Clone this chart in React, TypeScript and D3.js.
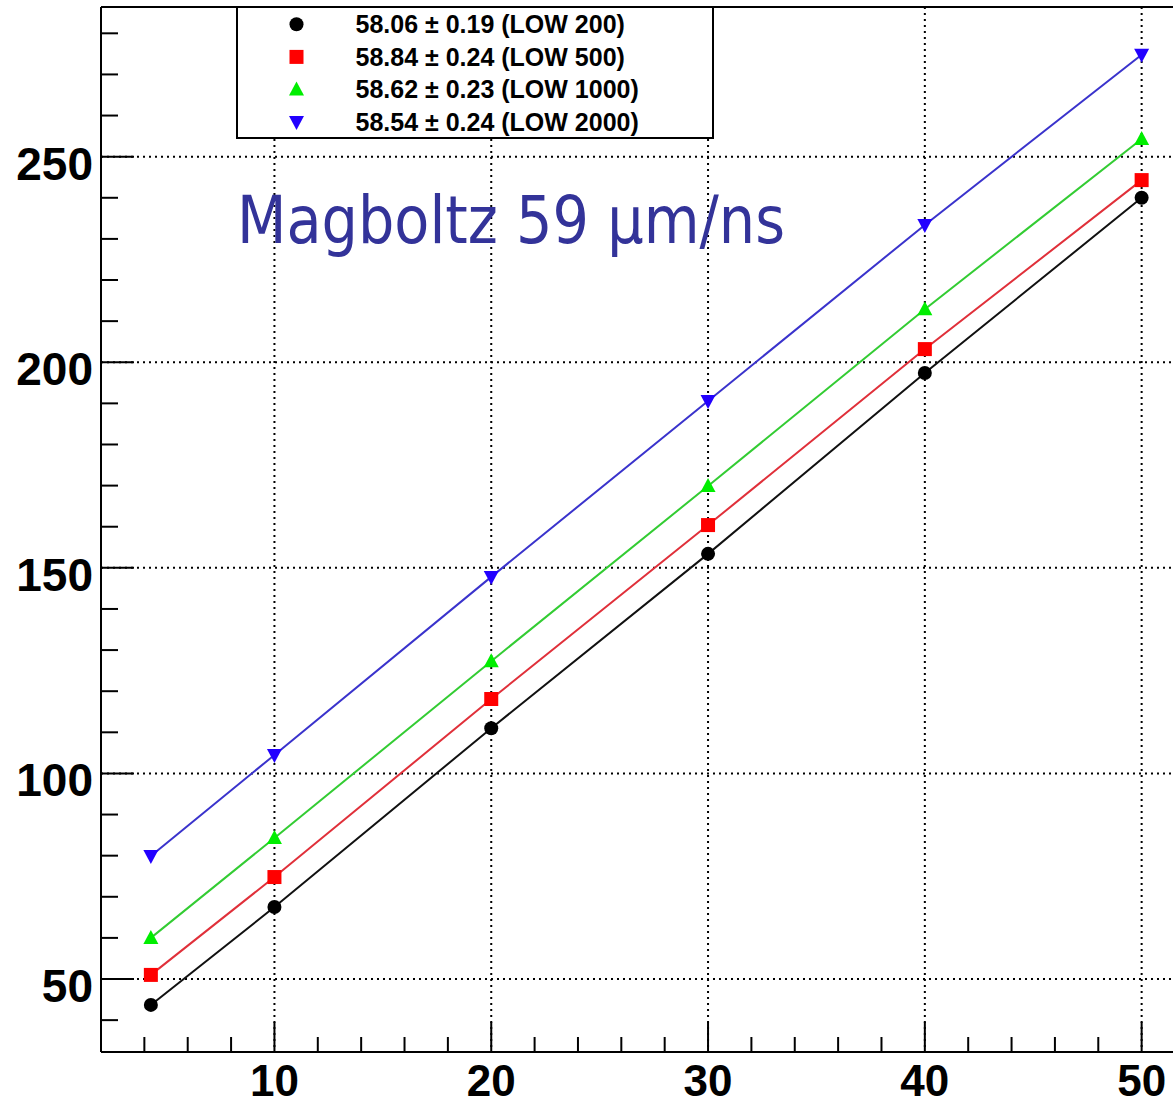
import React from "react";
import * as d3 from "d3";

const xValues = [4.3, 10, 20, 30, 40, 50];
const low200 = [43.7, 67.5, 111.0, 153.4, 197.4, 240.0];
const low500 = [51.0, 74.8, 118.1, 160.4, 203.2, 244.3];
const low1000 = [60.0, 84.3, 127.3, 169.9, 212.9, 254.3];
const low2000 = [79.9, 104.5, 147.8, 190.6, 233.4, 274.8];
const legendLabels = [
  "58.06 \u00b1 0.19 (LOW 200)",
  "58.84 \u00b1 0.24 (LOW 500)",
  "58.62 \u00b1 0.23 (LOW 1000)",
  "58.54 \u00b1 0.24 (LOW 2000)",
];
const xTicks = [10, 20, 30, 40, 50];
const yTicks = [50, 100, 150, 200, 250];
const annotation = "Magboltz 59 \u03bcm/ns";

const series = [
  { values: low200, marker: "circle", fill: "#000000", line: "#111111" },
  { values: low500, marker: "square", fill: "#ff0000", line: "#e0303a" },
  { values: low1000, marker: "triangle", fill: "#00ee00", line: "#33cc33" },
  { values: low2000, marker: "triangleDown", fill: "#2200ff", line: "#3a33cc" },
];

function Marker({ type, x, y, fill }: { type: string; x: number; y: number; fill: string }) {
  if (type === "circle") return <circle cx={x} cy={y} r={7} fill={fill} />;
  if (type === "square") return <rect x={x - 7} y={y - 7} width={14} height={14} fill={fill} />;
  if (type === "triangle")
    return <path d={`M${x},${y - 8} L${x + 7.5},${y + 6} L${x - 7.5},${y + 6} Z`} fill={fill} />;
  return <path d={`M${x},${y + 8} L${x + 7.5},${y - 6} L${x - 7.5},${y - 6} Z`} fill={fill} />;
}

export default function App() {
  const W = 1173;
  const H = 1106;
  const left = 101;
  const top = 7;
  const bottom = 1052;
  const x = d3.scaleLinear().domain([2, 52]).range([left, left + 50 * 21.68]);
  const y = d3.scaleLinear().domain([32.25, 286.4]).range([bottom, top]);
  const right = x.range()[1];

  const xMinor = d3.range(2, 53, 2).filter((v) => v % 10 !== 0);
  const yMinor = d3.range(40, 290, 10).filter((v) => v % 50 !== 0);

  const line = d3
    .line<number>()
    .x((_, i) => x(xValues[i]))
    .y((d) => y(d));

  return (
    <svg
      width={W}
      height={H}
      style={{ position: "absolute", left: 0, top: 0, background: "#fff" }}
      fontFamily="'Liberation Sans', Arial, Helvetica, sans-serif"
    >
      <rect x={0} y={0} width={W} height={H} fill="#fff" />
      {/* grid */}
      {xTicks.map((t) => (
        <line key={"gx" + t} x1={x(t)} x2={x(t)} y1={top} y2={bottom} stroke="#000" strokeWidth={2} strokeDasharray="2 4" />
      ))}
      {yTicks.map((t) => (
        <line key={"gy" + t} x1={left} x2={right} y1={y(t)} y2={y(t)} stroke="#000" strokeWidth={2} strokeDasharray="2 4" />
      ))}
      {/* frame */}
      <line x1={left} x2={left} y1={top} y2={bottom} stroke="#000" strokeWidth={2} />
      <line x1={left} x2={right} y1={bottom} y2={bottom} stroke="#000" strokeWidth={2} />
      <line x1={left} x2={right} y1={top} y2={top} stroke="#000" strokeWidth={2} />
      <line x1={right} x2={right} y1={top} y2={bottom} stroke="#000" strokeWidth={2} />
      {/* x ticks */}
      {xTicks.map((t) => (
        <g key={"xt" + t}>
          <line x1={x(t)} x2={x(t)} y1={bottom} y2={bottom - 30} stroke="#000" strokeWidth={2} />
          <text x={x(t)} y={1096} textAnchor="middle" fontSize={44} fontWeight="bold">
            {t}
          </text>
        </g>
      ))}
      {xMinor.map((t) => (
        <line key={"xm" + t} x1={x(t)} x2={x(t)} y1={bottom} y2={bottom - 15} stroke="#000" strokeWidth={2} />
      ))}
      {/* y ticks */}
      {yTicks.map((t) => (
        <g key={"yt" + t}>
          <line x1={left} x2={left + 33} y1={y(t)} y2={y(t)} stroke="#000" strokeWidth={2} />
          <text x={93} y={y(t) + 23} textAnchor="end" fontSize={46} fontWeight="bold">
            {t}
          </text>
        </g>
      ))}
      {yMinor.map((t) => (
        <line key={"ym" + t} x1={left} x2={left + 17} y1={y(t)} y2={y(t)} stroke="#000" strokeWidth={2} />
      ))}
      {/* series */}
      {series.map((s, i) => (
        <g key={"s" + i}>
          <path d={line(s.values) || ""} fill="none" stroke={s.line} strokeWidth={2} />
          {s.values.map((v, j) => (
            <Marker key={j} type={s.marker} x={x(xValues[j])} y={y(v)} fill={s.fill} />
          ))}
        </g>
      ))}
      {/* legend */}
      <rect x={237} y={7} width={476} height={131} fill="#fff" stroke="#000" strokeWidth={2} />
      {series.map((s, i) => {
        const cy = 24.3 + i * 32.6;
        return (
          <g key={"l" + i}>
            <Marker type={s.marker} x={296.5} y={cy} fill={s.fill} />
            <text x={355.5} y={cy + 8.8} fontSize={25} fontWeight="bold">
              {legendLabels[i]}
            </text>
          </g>
        );
      })}
      {/* annotation */}
      <text
        x={237}
        y={243}
        fontSize={65}
        fill="#333399"
        textLength={548}
        lengthAdjust="spacingAndGlyphs"
        fontFamily="'Comic Sans MS', 'DejaVu Sans', sans-serif"
      >
        {annotation}
      </text>
    </svg>
  );
}
